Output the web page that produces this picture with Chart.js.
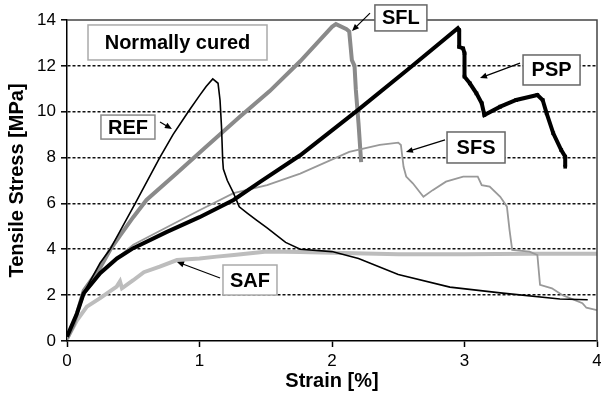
<!DOCTYPE html>
<html>
<head>
<meta charset="utf-8">
<script src="https://cdn.jsdelivr.net/npm/chart.js@4"></script>
<style>
  body { margin: 0; background: #fff; }
  canvas { display: block; }
</style>
</head>
<body>
<canvas id="c" width="601" height="403"></canvas>
<script>
// strain [%] and tensile stress [MPa]
const refStrain = [0, 0.05, 0.126, 0.25, 0.325, 0.515, 0.7, 0.8, 0.915, 1.0, 1.05, 1.1, 1.14, 1.155, 1.166, 1.175, 1.18, 1.21, 1.257, 1.3, 1.36, 1.43, 1.51, 1.65, 1.76, 2.0, 2.2, 2.5, 2.89, 3.27, 3.72, 3.93];
const refStress = [0.3, 0.8, 2.1, 3.4, 4.0, 6.0, 8.0, 9.0, 10.0, 10.7, 11.1, 11.43, 11.24, 10.5, 9.35, 7.9, 7.5, 7.0, 6.45, 5.85, 5.58, 5.27, 4.93, 4.3, 4.0, 3.9, 3.6, 2.9, 2.35, 2.1, 1.83, 1.8];

const sflStrain = [0, 0.05, 0.126, 0.25, 0.325, 0.4, 0.5, 0.6, 0.83, 1.05, 1.3, 1.53, 1.76, 2.0, 2.03, 2.11, 2.13, 2.15, 2.17, 2.18, 2.2, 2.22];
const sflStress = [0.1, 0.7, 2.2, 3.2, 3.97, 4.6, 5.4, 6.15, 7.33, 8.47, 9.76, 10.9, 12.2, 13.7, 13.82, 13.6, 13.5, 12.25, 12.0, 10.95, 9.5, 7.8];

const pspStrain = [0, 0.075, 0.126, 0.25, 0.377, 0.5, 0.75, 1.0, 1.257, 1.46, 1.76, 2.19, 2.6, 2.95, 2.96, 2.96, 2.99, 3.0, 3.0, 3.04, 3.09, 3.13, 3.15, 3.27, 3.39, 3.55, 3.59, 3.62, 3.67, 3.73, 3.76, 3.76];
const pspStress = [0.19, 1.2, 2.08, 2.96, 3.6, 4.05, 4.75, 5.4, 6.15, 6.95, 8.1, 10.05, 11.97, 13.64, 13.56, 12.83, 12.76, 12.55, 11.53, 11.24, 10.8, 10.37, 9.86, 10.22, 10.51, 10.73, 10.51, 9.93, 9.06, 8.33, 8.04, 7.6];

const sfsStrain = [0, 0.05, 0.126, 0.25, 0.5, 1.0, 1.257, 1.51, 1.76, 2.13, 2.36, 2.5, 2.52, 2.54, 2.56, 2.61, 2.69, 2.76, 2.86, 2.99, 3.1, 3.13, 3.19, 3.27, 3.32, 3.34, 3.36, 3.49, 3.55, 3.57, 3.66, 3.74, 3.89, 3.92, 4.0];
const sfsStress = [0.15, 0.8, 2.0, 3.0, 4.2, 5.7, 6.45, 6.8, 7.3, 8.25, 8.55, 8.65, 8.55, 7.6, 7.17, 6.88, 6.29, 6.58, 6.95, 7.17, 7.17, 6.8, 6.73, 6.29, 5.86, 4.84, 3.97, 3.9, 3.75, 2.45, 2.3, 2.0, 1.65, 1.45, 1.35];

const safStrain = [0, 0.075, 0.15, 0.25, 0.375, 0.4, 0.415, 0.5, 0.58, 0.7, 0.83, 1.0, 1.13, 1.26, 1.51, 1.76, 2.0, 2.5, 3.0, 3.5, 4.0];
const safStress = [0.1, 0.9, 1.5, 1.87, 2.37, 2.6, 2.3, 2.65, 3.0, 3.24, 3.53, 3.6, 3.68, 3.75, 3.9, 3.88, 3.85, 3.78, 3.78, 3.8, 3.8];

const yTicks = [0, 2, 4, 6, 8, 10, 12, 14];
const xTicks = [0, 1, 2, 3, 4];

const FONT = '"Liberation Sans", Arial, Helvetica, sans-serif';

const pts = (xs, ys) => xs.map((x, i) => ({ x: x, y: ys[i] }));

// labels in data coordinates, box size in px
const labels = [
  { text: 'Normally cured', x: 0.834, y: 13.02, w: 179, h: 35, border: '#aaa' },
  { text: 'REF', x: 0.46, y: 9.33, w: 54, h: 24, border: '#888', arrow: [0.702, 9.55, 0.792, 9.25] },
  { text: 'SFL', x: 2.52, y: 14.09, w: 52, h: 26, border: '#666', arrow: [2.287, 14.30, 2.151, 13.52] },
  { text: 'PSP', x: 3.657, y: 11.82, w: 57, h: 30, border: '#666', arrow: [3.419, 12.12, 3.117, 11.47] },
  { text: 'SFS', x: 3.087, y: 8.44, w: 58, h: 31, border: '#666', arrow: [2.853, 8.77, 2.558, 8.24] },
  { text: 'SAF', x: 1.381, y: 2.66, w: 54, h: 30, border: '#aaa', arrow: [1.155, 2.75, 0.83, 3.45] }
];

const frameAndLabels = {
  id: 'frameAndLabels',
  afterDatasetsDraw(chart) {
    const { ctx, chartArea: a, scales: { x, y } } = chart;
    ctx.save();
    // top and right frame
    ctx.strokeStyle = '#444';
    ctx.lineWidth = 1.5;
    ctx.beginPath();
    ctx.moveTo(a.left, a.top);
    ctx.lineTo(a.right, a.top);
    ctx.lineTo(a.right, a.bottom);
    ctx.stroke();

    labels.forEach(l => {
      if (l.arrow) {
        const x1 = x.getPixelForValue(l.arrow[0]), y1 = y.getPixelForValue(l.arrow[1]);
        const x2 = x.getPixelForValue(l.arrow[2]), y2 = y.getPixelForValue(l.arrow[3]);
        const ang = Math.atan2(y2 - y1, x2 - x1);
        ctx.strokeStyle = '#000';
        ctx.lineWidth = 1.2;
        ctx.beginPath();
        ctx.moveTo(x1, y1);
        ctx.lineTo(x2 - 4 * Math.cos(ang), y2 - 4 * Math.sin(ang));
        ctx.stroke();
        ctx.fillStyle = '#000';
        ctx.beginPath();
        ctx.moveTo(x2, y2);
        ctx.lineTo(x2 - 7 * Math.cos(ang) + 3 * Math.sin(ang), y2 - 7 * Math.sin(ang) - 3 * Math.cos(ang));
        ctx.lineTo(x2 - 7 * Math.cos(ang) - 3 * Math.sin(ang), y2 - 7 * Math.sin(ang) + 3 * Math.cos(ang));
        ctx.closePath();
        ctx.fill();
      }
      const cx = x.getPixelForValue(l.x), cy = y.getPixelForValue(l.y);
      ctx.fillStyle = '#fff';
      ctx.fillRect(cx - l.w / 2, cy - l.h / 2, l.w, l.h);
      ctx.strokeStyle = l.border;
      ctx.lineWidth = 1.5;
      ctx.strokeRect(cx - l.w / 2, cy - l.h / 2, l.w, l.h);
      ctx.fillStyle = '#000';
      ctx.font = 'bold 20px ' + FONT;
      ctx.textAlign = 'center';
      ctx.textBaseline = 'middle';
      ctx.fillText(l.text, cx, cy + 1);
    });
    ctx.restore();
  }
};

// PSP: small square markers after the peak, as in the original
const pspPeak = pspStress.indexOf(Math.max(...pspStress));

new Chart(document.getElementById('c'), {
  type: 'scatter',
  data: {
    datasets: [
      { label: 'PSP', data: pts(pspStrain, pspStress), borderColor: '#000', borderWidth: 4,
        pointStyle: 'rect', backgroundColor: '#000', pointBorderWidth: 0,
        pointRadius: pspStrain.map((_, i) => i > pspPeak ? 2.6 : 0) },
      { label: 'REF', data: pts(refStrain, refStress), borderColor: '#000', borderWidth: 1.6 },
      { label: 'SFS', data: pts(sfsStrain, sfsStress), borderColor: '#999', borderWidth: 1.8 },
      { label: 'SFL', data: pts(sflStrain, sflStress), borderColor: '#8a8a8a', borderWidth: 4 },
      { label: 'SAF', data: pts(safStrain, safStress), borderColor: '#bdbdbd', borderWidth: 4 }
    ].map(d => Object.assign({ pointRadius: 0 }, d, { showLine: true, tension: 0, fill: false }))
  },
  options: {
    responsive: false,
    animation: false,
    devicePixelRatio: 1,
    layout: { padding: { top: 20, right: 4, left: 0, bottom: 0 } },
    plugins: { legend: { display: false }, tooltip: { enabled: false } },
    scales: {
      x: {
        type: 'linear', min: 0, max: 4,
        afterBuildTicks: s => { s.ticks = xTicks.map(v => ({ value: v })); },
        afterFit: s => { s.height = 62; s.paddingLeft = 0; s.paddingRight = 0; },
        ticks: { color: '#000', font: { family: FONT, size: 17 }, padding: 4, maxRotation: 0 },
        grid: { drawOnChartArea: false, tickLength: 6, tickColor: '#000', tickWidth: 1.5 },
        border: { color: '#000', width: 1.5 },
        title: { display: true, text: 'Strain [%]', color: '#000', font: { family: FONT, size: 20, weight: 'bold' }, padding: { top: 0, bottom: 10 } }
      },
      y: {
        type: 'linear', min: 0, max: 14,
        afterBuildTicks: s => { s.ticks = yTicks.map(v => ({ value: v })); },
        afterFit: s => { s.width = 67; },
        ticks: { color: '#000', font: { family: FONT, size: 17 }, padding: 5 },
        grid: {
          color: c => (c.tick && (c.tick.value === 0 || c.tick.value === 14)) ? 'rgba(0,0,0,0)' : '#111',
          lineWidth: 1.6, tickLength: 6, tickColor: '#000', tickWidth: 1.5
        },
        border: { color: '#000', width: 1.5, dash: [3, 2] },
        title: { display: true, text: 'Tensile Stress [MPa]', color: '#000', font: { family: FONT, size: 20, weight: 'bold' }, padding: { top: 5, bottom: 0 } }
      }
    }
  },
  plugins: [frameAndLabels]
});
</script>
</body>
</html>
